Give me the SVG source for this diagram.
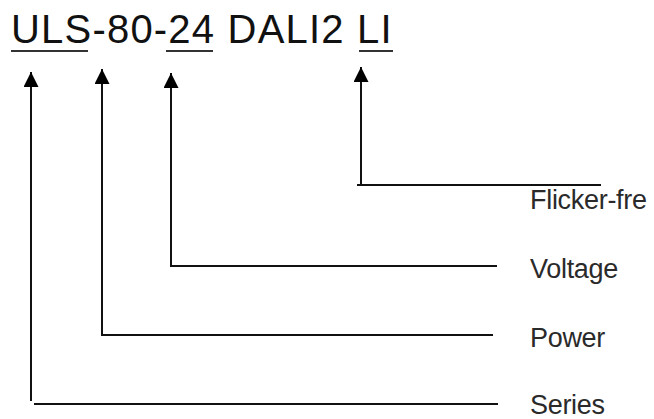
<svg xmlns="http://www.w3.org/2000/svg" width="654" height="419" viewBox="0 0 654 419">
  <style>
    .title { font-family: "Liberation Sans", Arial, sans-serif; font-size: 40px; fill: #111; letter-spacing: 1.2px; }
    .label { font-family: "Liberation Sans", Arial, sans-serif; font-size: 27px; fill: #2a2a2a; letter-spacing: -0.3px; }
    .uline { stroke: #333; stroke-width: 2; fill: none; }
    .conn { stroke: #111; stroke-width: 2; fill: none; }
  </style>
  <defs>
    <marker id="head" viewBox="0 0 16 16" refX="16" refY="8" markerWidth="16" markerHeight="15" markerUnits="userSpaceOnUse" orient="auto">
      <path d="M0,0 L16,8 L0,16 z" fill="#000"/>
    </marker>
  </defs>
  <rect width="654" height="419" fill="#fff"/>

  <g id="title">
    <text class="title" x="11" y="43">ULS-80-24 DALI2 LI</text>
    <line class="uline" x1="11" y1="51" x2="88" y2="51"/>
    <line class="uline" x1="166" y1="51" x2="213" y2="51"/>
    <line class="uline" x1="359" y1="51" x2="393" y2="51"/>
  </g>

  <g id="connectors">
    <path class="conn" d="M31,401 V72" marker-end="url(#head)"/>
    <path class="conn" d="M34,404 H498"/>
    <path class="conn" d="M102,335 V69" marker-end="url(#head)"/>
    <path class="conn" d="M101,335 H493"/>
    <path class="conn" d="M171,266 V73" marker-end="url(#head)"/>
    <path class="conn" d="M170,266 H497"/>
    <path class="conn" d="M361,184 V67" marker-end="url(#head)"/>
    <path class="conn" d="M357,185 H601"/>
  </g>

  <g id="label-flicker"><text class="label" x="530" y="209">Flicker-fre</text></g>
  <g id="label-voltage"><text class="label" x="530" y="278">Voltage</text></g>
  <g id="label-power"><text class="label" x="530" y="347">Power</text></g>
  <g id="label-series"><text class="label" x="530" y="414">Series</text></g>
</svg>
